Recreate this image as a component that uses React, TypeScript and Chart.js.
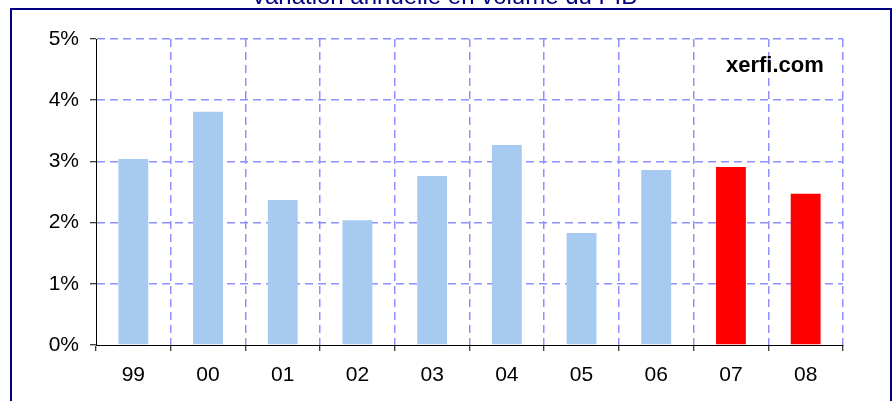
import React, { useEffect, useRef } from "react";
import { Chart, registerables } from "chart.js";

Chart.register(...registerables);

const years = ["99", "00", "01", "02", "03", "04", "05", "06", "07", "08"];
const growth = [3.04, 3.81, 2.37, 2.04, 2.76, 3.27, 1.83, 2.86, 2.91, 2.47];
const forecastFrom = 8; // index of the first forecast year (07)
const yTicks = [0, 1, 2, 3, 4, 5];

const titleText = "Variation annuelle en volume du PIB";
const sourceText = "xerfi.com";

const FONT = '"Liberation Sans", Arial, Helvetica, sans-serif';
const NAVY = "#000080";
const GRID = "#8F8FFF";
const HISTORY = "#A6CAF0";
const FORECAST = "#FF0000";

// hide the grid line that sits under the axis line itself
const gridColor = (c: any) => (c.index === 0 ? "rgba(0,0,0,0)" : GRID);

const framePlugin = {
  id: "frameAndTitle",
  afterDraw(chart: Chart) {
    const { ctx } = chart;
    ctx.save();
    // outer frame, open at the bottom of the canvas
    ctx.strokeStyle = NAVY;
    ctx.lineWidth = 2;
    ctx.beginPath();
    ctx.moveTo(11, 420);
    ctx.lineTo(11, 9);
    ctx.lineTo(891, 9);
    ctx.lineTo(891, 420);
    ctx.stroke();

    // title, sitting above the frame
    ctx.fillStyle = NAVY;
    ctx.font = `24px ${FONT}`;
    ctx.textAlign = "center";
    ctx.textBaseline = "alphabetic";
    ctx.fillText(titleText, 444, 4);

    // source label inside the plot
    ctx.fillStyle = "#000";
    ctx.font = `bold 22px ${FONT}`;
    ctx.textAlign = "left";
    ctx.fillText(sourceText, 726, 72);
    ctx.restore();
  },
};

export default function App() {
  const canvasRef = useRef<HTMLCanvasElement | null>(null);

  useEffect(() => {
    if (!canvasRef.current) return;
    const chart = new Chart(canvasRef.current, {
      type: "bar",
      data: {
        labels: years,
        datasets: [
          {
            data: growth,
            backgroundColor: growth.map((_, i) => (i >= forecastFrom ? FORECAST : HISTORY)),
            borderWidth: 0,
            barPercentage: 0.4,
            categoryPercentage: 1,
          },
        ],
      },
      options: {
        animation: false,
        responsive: false,
        maintainAspectRatio: false,
        layout: { padding: { top: 39, right: 52, left: 0, bottom: 0 } },
        plugins: {
          legend: { display: false },
          title: { display: false },
          tooltip: { enabled: false },
        },
        scales: {
          x: {
            offset: true,
            grid: {
              offset: true,
              color: gridColor,
              lineWidth: 1.5,
              tickLength: 6,
              tickColor: "#000",
              tickWidth: 1,
              tickBorderDash: [],
            },
            border: { display: true, color: "#000", width: 1, dash: [8, 5] },
            ticks: {
              color: "#000",
              font: { family: FONT, size: 21 },
              padding: 12,
              maxRotation: 0,
            },
            afterFit: (scale: any) => {
              scale.height = 56;
            },
          },
          y: {
            min: 0,
            max: 5,
            afterBuildTicks: (scale: any) => {
              scale.ticks = yTicks.map((v) => ({ value: v }));
            },
            grid: {
              color: gridColor,
              lineWidth: 1.5,
              tickLength: 6,
              tickColor: "#000",
              tickWidth: 1,
              tickBorderDash: [],
            },
            border: { display: true, color: "#000", width: 1, dash: [8, 5] },
            ticks: {
              color: "#000",
              font: { family: FONT, size: 21 },
              padding: 11,
              callback: (v: any) => `${v}%`,
            },
            afterFit: (scale: any) => {
              scale.width = 96;
            },
          },
        },
      },
      plugins: [framePlugin],
    });
    return () => chart.destroy();
  }, []);

  return (
    <div style={{ position: "fixed", left: 0, top: 0, width: 895, height: 401, background: "#fff" }}>
      <canvas ref={canvasRef} width={895} height={401} />
    </div>
  );
}
